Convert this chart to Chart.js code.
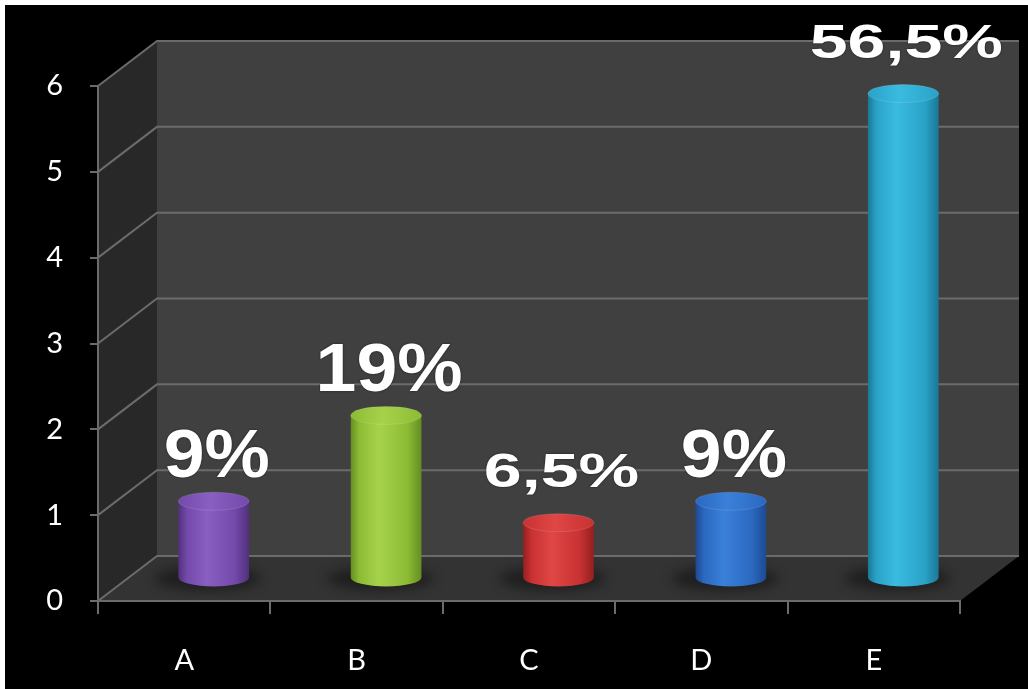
<!DOCTYPE html>
<html>
<head>
<meta charset="utf-8">
<script src="https://cdn.jsdelivr.net/npm/chart.js@4.4.0/dist/chart.umd.min.js"></script>
<style>
  html, body { margin: 0; padding: 0; background: #fff; }
  #wrap { position: absolute; left: 5px; top: 5px; width: 1023px; height: 684px; background: #000; }
</style>
</head>
<body>
<div id="wrap"><canvas id="chart"></canvas></div>
<script>
const categories = ['A', 'B', 'C', 'D', 'E'];
const values = [0.9, 1.9, 0.65, 0.9, 5.65];
const valueLabels = ['9%', '19%', '6,5%', '9%', '56,5%'];
const yMin = 0;
const yMax = 6;

// light / mid / dark shade for each cylinder
const barShades = [
  ['#8a5fc2', '#7349aa', '#52307c'],
  ['#a6d24a', '#8cbc34', '#658e22'],
  ['#e04646', '#c83232', '#941f1f'],
  ['#3a80da', '#2b68c0', '#1c4a90'],
  ['#3abbe0', '#2aa2c8', '#1a7896'],
];

const DX = 59, DY = -45;   // depth of the 3d box
const LINE = '#6b6b6b';

const box3d = {
  id: 'box3d',
  beforeDraw(chart) {
    const { ctx, chartArea: a, scales: { y } } = chart;
    ctx.save();
    // side wall
    ctx.fillStyle = '#282828';
    ctx.beginPath();
    ctx.moveTo(a.left, a.top); ctx.lineTo(a.left + DX, a.top + DY);
    ctx.lineTo(a.left + DX, a.bottom + DY); ctx.lineTo(a.left, a.bottom);
    ctx.closePath(); ctx.fill();
    // back wall
    ctx.fillStyle = '#404040';
    ctx.fillRect(a.left + DX, a.top + DY, a.right - a.left, a.bottom - a.top);
    // floor
    ctx.fillStyle = '#333333';
    ctx.beginPath();
    ctx.moveTo(a.left, a.bottom); ctx.lineTo(a.right, a.bottom);
    ctx.lineTo(a.right + DX, a.bottom + DY); ctx.lineTo(a.left + DX, a.bottom + DY);
    ctx.closePath(); ctx.fill();
    // grid lines
    ctx.strokeStyle = LINE;
    ctx.lineWidth = 2;
    y.ticks.forEach(t => {
      const py = y.getPixelForValue(t.value);
      ctx.beginPath();
      ctx.moveTo(a.left, py);
      ctx.lineTo(a.left + DX, py + DY);
      ctx.lineTo(a.right + DX, py + DY);
      ctx.stroke();
    });
    ctx.restore();
  }
};

function drawCylinder(ctx, cx, top, bottom, w, shades) {
  const rx = w / 2, ry = 9;
  ctx.save();
  // floor shadow
  ctx.filter = 'blur(6px)';
  ctx.fillStyle = 'rgba(0,0,0,0.4)';
  ctx.beginPath();
  ctx.ellipse(cx - 6, bottom + 1, rx + 18, ry + 3, 0, 0, Math.PI * 2);
  ctx.fill();
  ctx.filter = 'none';
  // body
  const g = ctx.createLinearGradient(cx - rx, 0, cx + rx, 0);
  g.addColorStop(0, shades[2]);
  g.addColorStop(0.12, shades[1]);
  g.addColorStop(0.4, shades[0]);
  g.addColorStop(0.8, shades[1]);
  g.addColorStop(1, shades[2]);
  ctx.fillStyle = g;
  ctx.beginPath();
  ctx.moveTo(cx - rx, top);
  ctx.lineTo(cx - rx, bottom);
  ctx.ellipse(cx, bottom, rx, ry, 0, Math.PI, 0, true);
  ctx.lineTo(cx + rx, top);
  ctx.closePath();
  ctx.fill();
  // top cap
  const tg = ctx.createLinearGradient(cx - rx, 0, cx + rx, 0);
  tg.addColorStop(0, shades[1]);
  tg.addColorStop(0.45, shades[0]);
  tg.addColorStop(1, shades[1]);
  ctx.fillStyle = tg;
  ctx.beginPath();
  ctx.ellipse(cx, top, rx, ry, 0, 0, Math.PI * 2);
  ctx.fill();
  ctx.strokeStyle = 'rgba(255,255,255,0.12)';
  ctx.lineWidth = 1;
  ctx.stroke();
  ctx.restore();
}

const cylinders = {
  id: 'cylinders',
  afterDatasetsDraw(chart) {
    const { ctx } = chart;
    const meta = chart.getDatasetMeta(0);
    meta.data.forEach((bar, i) => {
      const cx = bar.x + DX / 2;
      const top = bar.y + DY / 2;
      const bottom = bar.base + DY / 2;
      drawCylinder(ctx, cx, top, bottom, bar.width, barShades[i]);

      // value label
      const txt = valueLabels[i];
      const small = txt.includes(',');
      const size = small ? 48 : 68;
      const stretch = small ? 1.42 : 1.08;
      const gap = small ? 27 : 15;
      ctx.save();
      ctx.translate(cx + 3, top - 9 - gap);
      ctx.scale(stretch, 1);
      ctx.font = 'bold ' + size + 'px "Liberation Sans", Arial, sans-serif';
      ctx.textAlign = 'center';
      ctx.textBaseline = 'alphabetic';
      ctx.shadowColor = 'rgba(0,0,0,0.7)';
      ctx.shadowBlur = 2;
      ctx.fillStyle = '#ffffff';
      ctx.fillText(txt, 0, 0);
      ctx.restore();
    });
  }
};

new Chart(document.getElementById('chart'), {
  type: 'bar',
  data: {
    labels: categories,
    datasets: [{
      data: values,
      backgroundColor: 'rgba(0,0,0,0)',
      barPercentage: 0.41,
      categoryPercentage: 1,
    }]
  },
  options: {
    responsive: true,
    maintainAspectRatio: false,
    animation: false,
    layout: { padding: { top: 81, right: 68, left: 0, bottom: 0 } },
    plugins: { legend: { display: false }, tooltip: { enabled: false } },
    scales: {
      x: {
        afterFit: s => { s.height = 88; },
        grid: { drawOnChartArea: false, drawTicks: true, tickLength: 13, color: LINE, lineWidth: 2, offset: true },
        border: { display: true, color: LINE, width: 2 },
        ticks: { color: '#ffffff', font: { family: 'Lato', size: 29 }, padding: 29 }
      },
      y: {
        min: yMin,
        max: yMax,
        afterFit: s => { s.width = 93; },
        grid: { drawOnChartArea: false, drawTicks: true, tickLength: 8, color: LINE, lineWidth: 2 },
        border: { display: true, color: LINE, width: 2 },
        ticks: { stepSize: 1, color: '#ffffff', font: { family: 'Lato', size: 29 }, padding: 27 }
      }
    }
  },
  plugins: [box3d, cylinders]
});
</script>
</body>
</html>
